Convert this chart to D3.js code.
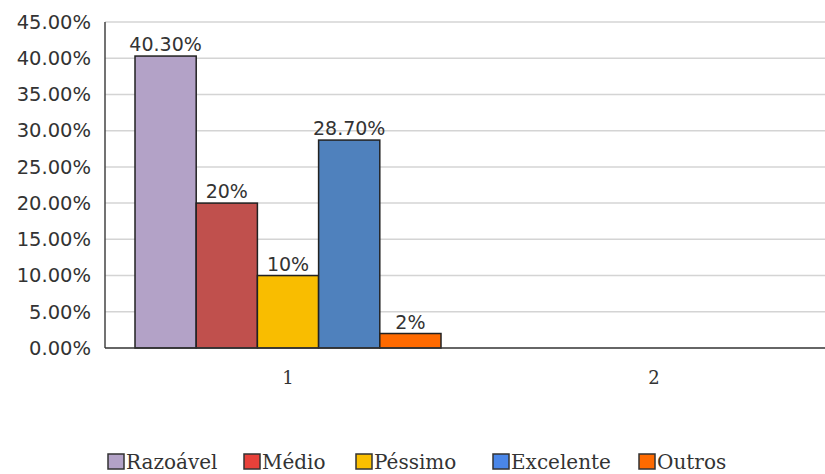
<!DOCTYPE html>
<html>
<head>
<meta charset="utf-8">
<script src="https://cdn.jsdelivr.net/npm/d3@7"></script>
<style>
  html, body { margin: 0; padding: 0; background: #fff; }
  svg { display: block; }
  .serif { font-family: "DejaVu Serif", "Liberation Serif", "Noto Serif", serif; }
</style>
</head>
<body>
<svg id="chart" width="825" height="474"></svg>
<script>
// Survey answers, grouped by question
const categories = ["1", "2"];
const seriesNames = ["Razoável", "Médio", "Péssimo", "Excelente", "Outros"];
const group1Values = [0.403, 0.20, 0.10, 0.287, 0.02];
const group2Values = [0, 0, null, null, null];
const valueLabels = ["40.30%", "20%", "10%", "28.70%", "2%"];
const barColors = ["#b3a2c7", "#c0504d", "#f9bd00", "#4f81bd", "#ff6a00"];
const legendColors = ["#b3a2c7", "#e8413a", "#fbbf00", "#4a86e8", "#ff6a00"];
const yTicks = [0, 0.05, 0.10, 0.15, 0.20, 0.25, 0.30, 0.35, 0.40, 0.45];

(function () {
const svg = d3.select("#chart");
const plotLeft = 105, plotTop = 22, plotBottom = 348, plotRight = 837;

const x0 = d3.scaleBand().domain(categories).range([plotLeft, plotRight]).paddingInner(0).paddingOuter(0);
const x1 = d3.scaleBand().domain(seriesNames).range([30, x0.bandwidth() - 30]).padding(0);
const y = d3.scaleLinear().domain([0, 0.45]).range([plotBottom, plotTop]);

// grid lines
svg.append("g")
  .selectAll("line")
  .data(yTicks.filter(d => d > 0))
  .join("line")
  .attr("x1", plotLeft).attr("x2", 825)
  .attr("y1", d => y(d)).attr("y2", d => y(d))
  .attr("stroke", "#d4d4d4").attr("stroke-width", 1.5);

// y axis labels
const yAxis = d3.axisLeft(y).tickValues(yTicks).tickFormat(d3.format(".2%")).tickSize(0).tickPadding(14);
const yg = svg.append("g").attr("transform", `translate(${plotLeft},0)`).call(yAxis);
yg.select(".domain").remove();
yg.selectAll("text")
  .attr("font-family", "Verdana, 'DejaVu Sans', sans-serif")
  .attr("font-size", 19.5).attr("fill", "#333");

const rows = [group1Values, group2Values];

// bars
const groups = svg.append("g").selectAll("g")
  .data(categories)
  .join("g")
  .attr("transform", d => `translate(${x0(d)},0)`);

groups.selectAll("rect")
  .data((c, i) => seriesNames.map((s, j) => ({ s, j, v: rows[i][j] })).filter(d => d.v !== null))
  .join("rect")
  .attr("x", d => x1(d.s))
  .attr("width", x1.bandwidth())
  .attr("y", d => y(d.v))
  .attr("height", d => y(0) - y(d.v))
  .attr("fill", d => barColors[d.j])
  .attr("stroke", "#222").attr("stroke-width", 1.5);

// value labels on the first group
svg.append("g").selectAll("text")
  .data(seriesNames.map((s, j) => ({ s, j, v: group1Values[j] })))
  .join("text")
  .attr("x", d => x0(categories[0]) + x1(d.s) + x1.bandwidth() / 2)
  .attr("y", d => y(d.v) - 5)
  .attr("text-anchor", "middle")
  .attr("font-family", "Verdana, 'DejaVu Sans', sans-serif")
  .attr("font-size", 19).attr("fill", "#333")
  .text((d, i) => valueLabels[i]);

// axis lines
svg.append("line").attr("x1", plotLeft).attr("x2", plotLeft).attr("y1", plotTop).attr("y2", plotBottom)
  .attr("stroke", "#444").attr("stroke-width", 1.5);
svg.append("line").attr("x1", plotLeft).attr("x2", 825).attr("y1", plotBottom).attr("y2", plotBottom)
  .attr("stroke", "#333").attr("stroke-width", 1.5);

// category labels
svg.append("g").selectAll("text")
  .data(categories)
  .join("text")
  .attr("class", "serif")
  .attr("x", d => x0(d) + x0.bandwidth() / 2)
  .attr("y", 384)
  .attr("text-anchor", "middle")
  .attr("font-size", 18).attr("fill", "#333")
  .text(d => d);

// legend
const legendX = [108, 244, 356, 493, 639];
const leg = svg.append("g").selectAll("g")
  .data(seriesNames)
  .join("g")
  .attr("transform", (d, i) => `translate(${legendX[i]},454)`);
leg.append("rect")
  .attr("width", 16).attr("height", 15)
  .attr("fill", (d, i) => legendColors[i])
  .attr("stroke", "#333").attr("stroke-width", 1.5);
leg.append("text")
  .attr("class", "serif")
  .attr("x", 18).attr("y", 15)
  .attr("font-size", 20).attr("fill", "#333")
  .text(d => d);
})();
</script>
</body>
</html>
